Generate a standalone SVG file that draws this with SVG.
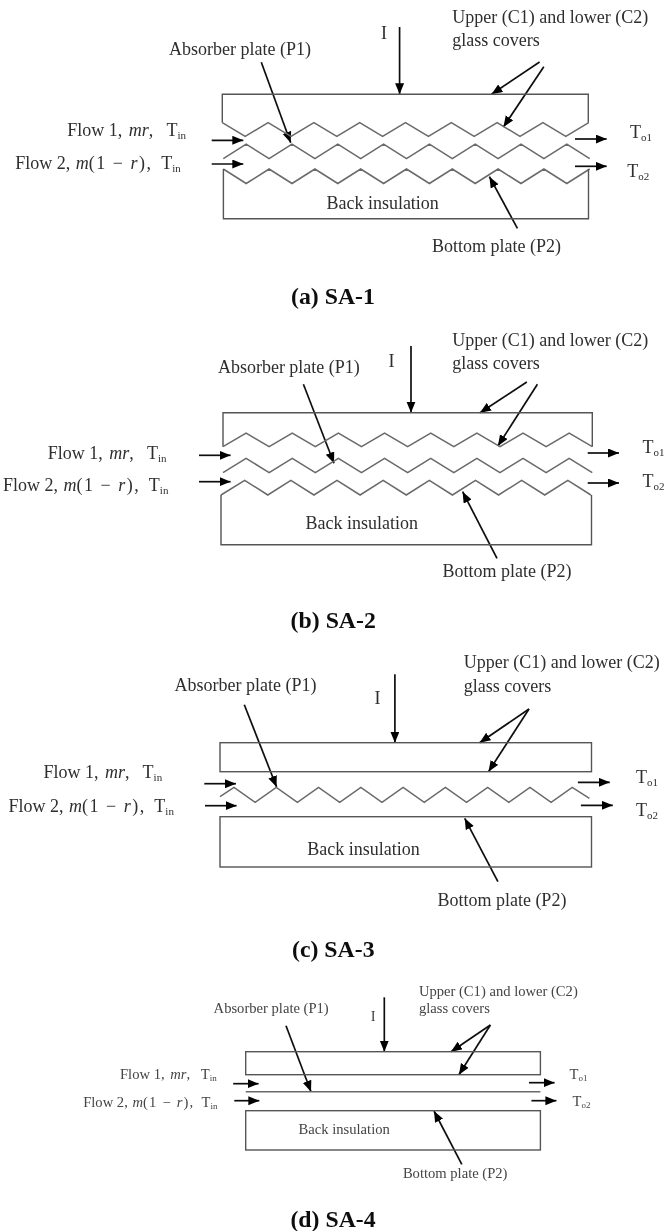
<svg xmlns="http://www.w3.org/2000/svg" width="667" height="1231" viewBox="0 0 667 1231">
<style>
text{font-family:"Liberation Serif","Times New Roman",serif;fill:#2e2e2e;font-size:18px;white-space:pre}
.d text{font-size:14.6px;fill:#444}
.cap,.d .cap{font-size:23.8px;font-weight:bold;fill:#111}
.i{font-style:italic}
.s{font-size:11px}
.d .s{font-size:9px}
.m{letter-spacing:1.5px}
.d .m{letter-spacing:1.2px}
.z{fill:none;stroke:#6a6a6a;stroke-width:1.5}
.b{fill:none;stroke:#555;stroke-width:1.4}
.a{stroke:#111;stroke-width:1.7;fill:none;marker-end:url(#h)}
</style>
<defs>
<marker id="h" markerUnits="userSpaceOnUse" markerWidth="12" markerHeight="10" refX="11" refY="4.5" orient="auto"><path d="M0 0L11 4.5L0 9z" fill="#000"/></marker>
<filter id="soft" x="0" y="0" width="100%" height="100%" filterUnits="userSpaceOnUse"><feGaussianBlur stdDeviation="0.35"/></filter>
</defs>
<rect width="667" height="1231" fill="#fff"/>
<g filter="url(#soft)">
<g id="connectors">
<path class="a" d="M399.6 27V94.3"/><path class="a" d="M539.6 62L491.5 94.3"/><path class="a" d="M543.8 66.7L503.4 127"/><path class="a" d="M261.3 62.3L290.7 142.7"/><path class="a" d="M211.7 140.3H243.3"/><path class="a" d="M211.7 164H243.3"/><path class="a" d="M575 139H606.7"/><path class="a" d="M575 166.3H606.7"/><path class="a" d="M517.4 228.3L489.4 176.7"/>
<path class="a" d="M411 346V412.7"/><path class="a" d="M526.8 382L480 412.7"/><path class="a" d="M537.4 384.3L497.9 446"/><path class="a" d="M303.4 384.3L334 463.3"/><path class="a" d="M199 455.3H230.6"/><path class="a" d="M199 481.7H230.6"/><path class="a" d="M587.7 453H619"/><path class="a" d="M587.7 483H619"/><path class="a" d="M497 558.3L462.6 491.7"/>
<path class="a" d="M394.9 674.3V742.7"/><path class="a" d="M529 709L479.6 742.7"/><path class="a" d="M529 709L488.5 771.7"/><path class="a" d="M244.3 704.7L276.6 787"/><path class="a" d="M204.3 783.7H236"/><path class="a" d="M205 805.7H236.6"/><path class="a" d="M577.9 782.3H609.8"/><path class="a" d="M580.9 805.3H612.8"/><path class="a" d="M497.9 881.7L464.7 818.3"/>
<path class="a" d="M384.3 997.3V1051.7"/><path class="a" d="M490.4 1025L451 1051.7"/><path class="a" d="M490.4 1025L458.9 1074.7"/><path class="a" d="M286 1025.7L311 1091.7"/><path class="a" d="M233.2 1083.7H258.6"/><path class="a" d="M234.3 1100.7H259.3"/><path class="a" d="M529 1082.7H554.6"/><path class="a" d="M531.4 1100.7H556.4"/><path class="a" d="M461.8 1164.3L434 1111"/>
</g>
<g id="panel-a">
<path id="a-top" class="b" d="M222.3 122.7V94.3H588.3V122.7"/>
<path id="a-c2" class="z" d="M222.3 122.7l22.9 13.6 22.9 -13.6 22.9 13.6 22.9 -13.6 22.9 13.6 22.9 -13.6 22.9 13.6 22.9 -13.6 22.9 13.6 22.9 -13.6 22.9 13.6 22.9 -13.6 22.9 13.6 22.9 -13.6 22.9 13.6 22.9 -13.6"/>
<path id="a-p1" class="z" d="M223.3 158.7l22.9 -14.5 22.9 14.5 22.9 -14.5 22.9 14.5 22.9 -14.5 22.9 14.5 22.9 -14.5 22.9 14.5 22.9 -14.5 22.9 14.5 22.9 -14.5 22.9 14.5 22.9 -14.5 22.9 14.5 22.9 -14.5 22.9 14.5"/>
<path id="a-p2" class="z" d="M223.3 169l22.9 14.5 22.9 -14.5 22.9 14.5 22.9 -14.5 22.9 14.5 22.9 -14.5 22.9 14.5 22.9 -14.5 22.9 14.5 22.9 -14.5 22.9 14.5 22.9 -14.5 22.9 14.5 22.9 -14.5 22.9 14.5 22.9 -14.5"/>
<path id="a-back" class="b" d="M223.4 169V218.7H588.5V169"/>
<text x="452.3" y="23.3">Upper (C1) and lower (C2)</text><text x="452.3" y="45.7">glass covers</text><text x="381" y="39.3">I</text>
<text x="169" y="55">Absorber plate (P1)</text>
<text x="67.2" y="136">Flow 1, <tspan class="i" dx="2">mr</tspan>,   T<tspan class="s" dy="3">in</tspan></text>
<text x="15.3" y="169">Flow 2, <tspan class="i" dx="1">m</tspan><tspan class="m">(1 − <tspan class="i">r</tspan>),</tspan>  T<tspan class="s" dy="3">in</tspan></text>
<text x="630" y="138.3">T<tspan class="s" dy="3">o1</tspan></text><text x="627.3" y="176.7">T<tspan class="s" dy="3">o2</tspan></text>
<text x="326.4" y="209.3">Back insulation</text><text x="432" y="252.3">Bottom plate (P2)</text>
<text class="cap" x="291" y="304">(a) SA-1</text>
</g>
<g id="panel-b">
<path id="b-top" class="b" d="M223 446.7V412.7H592.3V446.7"/>
<path id="b-c2" class="z" d="M223 446.7l23.08 -13.5 23.08 13.5 23.08 -13.5 23.08 13.5 23.08 -13.5 23.08 13.5 23.08 -13.5 23.08 13.5 23.08 -13.5 23.08 13.5 23.08 -13.5 23.08 13.5 23.08 -13.5 23.08 13.5 23.08 -13.5 23.08 13.5"/>
<path id="b-p1" class="z" d="M223 472.7l23.08 -14.4 23.08 14.4 23.08 -14.4 23.08 14.4 23.08 -14.4 23.08 14.4 23.08 -14.4 23.08 14.4 23.08 -14.4 23.08 14.4 23.08 -14.4 23.08 14.4 23.08 -14.4 23.08 14.4 23.08 -14.4 23.08 14.4"/>
<path id="b-p2" class="z" d="M221 495l23.7 -14.7 23.08 14.7 23.08 -14.7 23.08 14.7 23.08 -14.7 23.08 14.7 23.08 -14.7 23.08 14.7 23.08 -14.7 23.08 14.7 23.08 -14.7 23.08 14.7 23.08 -14.7 23.08 14.7 23.08 -14.7 23.08 14.7"/>
<path id="b-back" class="b" d="M221 495V544.7H591.5V495"/>
<text x="452.3" y="346">Upper (C1) and lower (C2)</text><text x="452.3" y="369">glass covers</text><text x="388.5" y="366.7">I</text>
<text x="217.9" y="372.7">Absorber plate (P1)</text>
<text x="47.7" y="459">Flow 1, <tspan class="i" dx="2">mr</tspan>,   T<tspan class="s" dy="3">in</tspan></text>
<text x="3" y="490.7">Flow 2, <tspan class="i" dx="1">m</tspan><tspan class="m">(1 − <tspan class="i">r</tspan>),</tspan>  T<tspan class="s" dy="3">in</tspan></text>
<text x="642.6" y="453.3">T<tspan class="s" dy="3">o1</tspan></text><text x="642.6" y="486.7">T<tspan class="s" dy="3">o2</tspan></text>
<text x="305.5" y="528.7">Back insulation</text><text x="442.6" y="576.7">Bottom plate (P2)</text>
<text class="cap" x="290.6" y="628">(b) SA-2</text>
</g>
<g id="panel-c">
<rect id="c-top" class="b" x="220" y="742.7" width="371.5" height="29"/>
<path id="c-p1" class="z" d="M220 796.7L234 787.3l21.14 15 21.14 -15 21.14 15 21.14 -15 21.14 15 21.14 -15 21.14 15 21.14 -15 21.14 15 21.14 -15 21.14 15 21.14 -15 21.14 15 21.14 -15 21.14 15 21.14 -15L589.4 798.3"/>
<rect id="c-back" class="b" x="220" y="816.7" width="371.5" height="50.3"/>
<text x="463.8" y="668.3">Upper (C1) and lower (C2)</text><text x="463.8" y="691.7">glass covers</text><text x="374.5" y="704">I</text>
<text x="174.5" y="691">Absorber plate (P1)</text>
<text x="43.4" y="778.3">Flow 1, <tspan class="i" dx="2">mr</tspan>,   T<tspan class="s" dy="3">in</tspan></text>
<text x="8.5" y="811.7">Flow 2, <tspan class="i" dx="1">m</tspan><tspan class="m">(1 − <tspan class="i">r</tspan>),</tspan>  T<tspan class="s" dy="3">in</tspan></text>
<text x="636" y="783.3">T<tspan class="s" dy="3">o1</tspan></text><text x="636" y="816">T<tspan class="s" dy="3">o2</tspan></text>
<text x="307.2" y="855">Back insulation</text><text x="437.4" y="906">Bottom plate (P2)</text>
<text class="cap" x="292" y="957.3">(c) SA-3</text>
</g>
<g id="panel-d" class="d">
<rect id="d-top" class="b" x="245.7" y="1051.7" width="294.7" height="23"/>
<path id="d-p1" class="z" d="M245.7 1091.7H540.4"/>
<rect id="d-back" class="b" x="245.7" y="1110.7" width="294.7" height="39.3"/>
<text x="418.9" y="995.7">Upper (C1) and lower (C2)</text><text x="418.9" y="1013.3">glass covers</text><text x="370.7" y="1021">I</text>
<text x="213.6" y="1013.3">Absorber plate (P1)</text>
<text x="120" y="1079.3">Flow 1, <tspan class="i" dx="2">mr</tspan>,   T<tspan class="s" dy="2">in</tspan></text>
<text x="83.2" y="1106.7">Flow 2, <tspan class="i" dx="1">m</tspan><tspan class="m">(1 − <tspan class="i">r</tspan>),</tspan>  T<tspan class="s" dy="2">in</tspan></text>
<text x="569.6" y="1079">T<tspan class="s" dy="2">o1</tspan></text><text x="572.5" y="1105.7">T<tspan class="s" dy="2">o2</tspan></text>
<text x="298.6" y="1134">Back insulation</text><text x="402.9" y="1177.7">Bottom plate (P2)</text>
<text class="cap" x="290.4" y="1226.7">(d) SA-4</text>
</g>
</g>
</svg>
